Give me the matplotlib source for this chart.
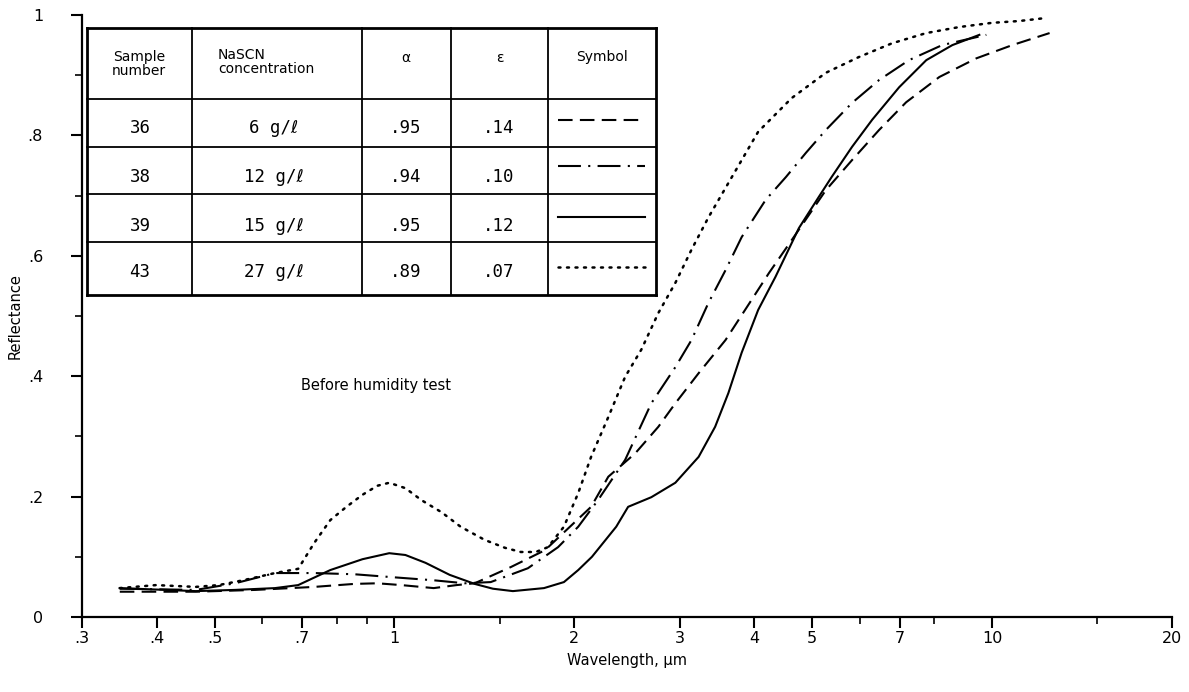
import matplotlib.pyplot as plt
from matplotlib.ticker import FixedLocator, NullFormatter

# reflectance curves, wavelength in um
wl_36 = [0.347, 0.465, 0.585, 0.734, 0.857, 0.936, 1.027, 1.163, 1.27, 1.362, 1.566, 1.786,
         2.133, 2.279, 2.529, 2.764, 2.951, 3.228, 3.58, 3.96, 4.23, 4.62, 5.27, 5.83, 6.47,
         7.18, 8.16, 9.41, 10.81, 12.48]
r_36 = [0.042, 0.042, 0.045, 0.050, 0.055, 0.056, 0.053, 0.048, 0.053, 0.056, 0.083, 0.111,
        0.183, 0.233, 0.272, 0.316, 0.355, 0.405, 0.460, 0.527, 0.571, 0.626, 0.709, 0.759, 0.809,
        0.855, 0.897, 0.928, 0.950, 0.970]

wl_38 = [0.347, 0.465, 0.541, 0.631, 0.734, 0.857, 0.996, 1.163, 1.311, 1.449, 1.672, 1.878,
         2.03, 2.19, 2.432, 2.69, 2.951, 3.14, 3.353, 3.58, 3.81, 4.18, 4.52, 4.88, 5.27, 5.83,
         6.47, 7.26, 8.25, 9.78]
r_38 = [0.047, 0.045, 0.056, 0.073, 0.073, 0.071, 0.066, 0.061, 0.056, 0.058, 0.081, 0.116,
        0.150, 0.194, 0.261, 0.355, 0.415, 0.460, 0.522, 0.576, 0.631, 0.693, 0.731, 0.771, 0.809, 0.854,
        0.892, 0.925, 0.950, 0.967]

wl_39 = [0.347, 0.465, 0.541, 0.631, 0.69, 0.781, 0.884, 0.98, 1.043, 1.127, 1.237, 1.362, 1.461,
         1.578, 1.779, 1.921, 2.03, 2.14, 2.35, 2.46, 2.69, 2.951, 3.228, 3.44, 3.62, 3.81, 4.06,
         4.34, 4.75, 5.13, 5.39, 5.83, 6.30, 6.99, 7.76, 8.58, 9.52]
r_39 = [0.048, 0.043, 0.045, 0.048, 0.053, 0.078, 0.096, 0.106, 0.103, 0.090, 0.070, 0.055, 0.047,
        0.043, 0.048, 0.058, 0.078, 0.100, 0.150, 0.183, 0.199, 0.223, 0.266, 0.316, 0.372, 0.439, 0.510,
        0.565, 0.646, 0.698, 0.731, 0.781, 0.826, 0.880, 0.925, 0.950, 0.967]

wl_43 = [0.347, 0.399, 0.465, 0.508, 0.558, 0.631, 0.69, 0.734, 0.781, 0.831, 0.884, 0.936, 0.98,
         1.043, 1.11, 1.199, 1.29, 1.416, 1.53, 1.627, 1.724, 1.806, 1.921, 2.03, 2.133, 2.279,
         2.432, 2.588, 2.764, 2.951, 3.14, 3.353, 3.77, 4.06, 4.62, 5.27, 5.98, 6.80, 7.76, 8.81,
         10.0, 11.1, 12.3]
r_43 = [0.048, 0.053, 0.050, 0.053, 0.061, 0.073, 0.080, 0.123, 0.161, 0.183, 0.203, 0.218, 0.223,
        0.214, 0.194, 0.174, 0.150, 0.128, 0.115, 0.108, 0.108, 0.116, 0.150, 0.206, 0.266, 0.332,
        0.399, 0.444, 0.505, 0.555, 0.610, 0.664, 0.751, 0.806, 0.862, 0.904, 0.930, 0.953, 0.970, 0.980,
        0.987, 0.990, 0.995]

x_ticks = [0.3, 0.4, 0.5, 0.7, 1, 2, 3, 4, 5, 7, 10, 20]
x_labels = [".3", ".4", ".5", ".7", "1", "2", "3", "4", "5", "7", "10", "20"]
x_minor = [0.6, 0.8, 0.9, 1.5, 6, 8, 15]
y_ticks = [0, 0.2, 0.4, 0.6, 0.8, 1.0]
y_labels = ["0", ".2", ".4", ".6", ".8", "1"]
y_minor = [0.1, 0.3, 0.5, 0.7, 0.9]

samples = ["36", "38", "39", "43"]
conc = ["6 g/\u2113", "12 g/\u2113", "15 g/\u2113", "27 g/\u2113"]
alpha = [".95", ".94", ".95", ".89"]
eps = [".14", ".10", ".12", ".07"]

styles = [(0, (7, 3.5)), (0, (11, 3.5, 1, 3.5)), "-", (0, (0.8, 2.6))]

W, H = 1189, 692
fig = plt.figure(figsize=(W / 100, H / 100), dpi=100)
ax = fig.add_axes([82 / W, 75 / H, (1172 - 82) / W, (617 - 15) / H])

curves = [(wl_36, r_36), (wl_38, r_38), (wl_39, r_39), (wl_43, r_43)]
for (wl, r), ls in zip(curves, styles):
    if ls == styles[3]:
        ax.plot(wl, r, color="black", lw=1.8, ls=ls, dash_capstyle="round")
    else:
        ax.plot(wl, r, color="black", lw=1.5, ls=ls)

ax.set_xscale("log")
ax.set_xlim(0.3, 20)
ax.set_ylim(0, 1)
for s in ["top", "right"]:
    ax.spines[s].set_visible(False)
for s in ["left", "bottom"]:
    ax.spines[s].set_linewidth(1.6)

ax.xaxis.set_major_locator(FixedLocator(x_ticks))
ax.set_xticklabels(x_labels)
ax.xaxis.set_minor_locator(FixedLocator(x_minor))
ax.xaxis.set_minor_formatter(NullFormatter())
ax.set_yticks(y_ticks)
ax.set_yticklabels(y_labels)
ax.yaxis.set_minor_locator(FixedLocator(y_minor))
ax.tick_params(which="major", direction="out", length=8, width=1.5, labelsize=11.5)
ax.tick_params(which="minor", direction="out", length=5, width=1.2)
ax.tick_params(axis="x", which="major", pad=2)
ax.tick_params(axis="y", which="major", pad=20)

ax.set_xlabel("Wavelength, \u00b5m", fontsize=10.5, labelpad=5)
ax.set_ylabel("Reflectance", fontsize=10.5, labelpad=4)
ax.text(0.93, 0.384, "Before humidity test", fontsize=10.5, ha="center", va="center")

# table drawn in its own pixel-sized axes
cols = [87, 192, 362, 451, 548, 656]
rows = [28, 99, 147, 194, 242, 295]
tax = fig.add_axes([cols[0] / W, 1 - rows[-1] / H, (cols[-1] - cols[0]) / W, (rows[-1] - rows[0]) / H])
tax.set_xlim(cols[0], cols[-1])
tax.set_ylim(rows[-1], rows[0])
tax.axis("off")
tax.set_zorder(3)

for c in cols:
    lw = 2.0 if c in (cols[0], cols[-1]) else 1.3
    tax.plot([c, c], [rows[0], rows[-1]], color="black", lw=lw, clip_on=False)
for r in rows:
    lw = 2.0 if r in (rows[0], rows[-1]) else 1.3
    tax.plot([cols[0], cols[-1]], [r, r], color="black", lw=lw, clip_on=False)

hfont = dict(fontsize=10, family="DejaVu Sans")
tax.text(139, 64, "Sample\nnumber", ha="center", va="center", linespacing=0.95, **hfont)
tax.text(218, 62, "NaSCN\nconcentration", ha="left", va="center", linespacing=0.95, **hfont)
tax.text(406, 58, "\u03b1", ha="center", va="center", **hfont)
tax.text(500, 58, "\u03b5", ha="center", va="center", **hfont)
tax.text(602, 57, "Symbol", ha="center", va="center", **hfont)

bfont = dict(fontsize=12.5, family=["DejaVu Sans Mono", "DejaVu Sans"])
text_y = [128, 177, 226, 272]
line_y = [120, 166, 217, 267]
for i in range(4):
    tax.text(140, text_y[i], samples[i], ha="center", va="center", **bfont)
    tax.text(274, text_y[i], conc[i], ha="center", va="center", **bfont)
    tax.text(406, text_y[i], alpha[i], ha="center", va="center", **bfont)
    tax.text(499, text_y[i], eps[i], ha="center", va="center", **bfont)
    if i == 3:
        tax.plot([558, 645], [line_y[i], line_y[i]], color="black", lw=1.8, ls=styles[i],
                 dash_capstyle="round")
    else:
        tax.plot([558, 645], [line_y[i], line_y[i]], color="black", lw=1.5, ls=styles[i])

fig.savefig("out.png", dpi=100)
